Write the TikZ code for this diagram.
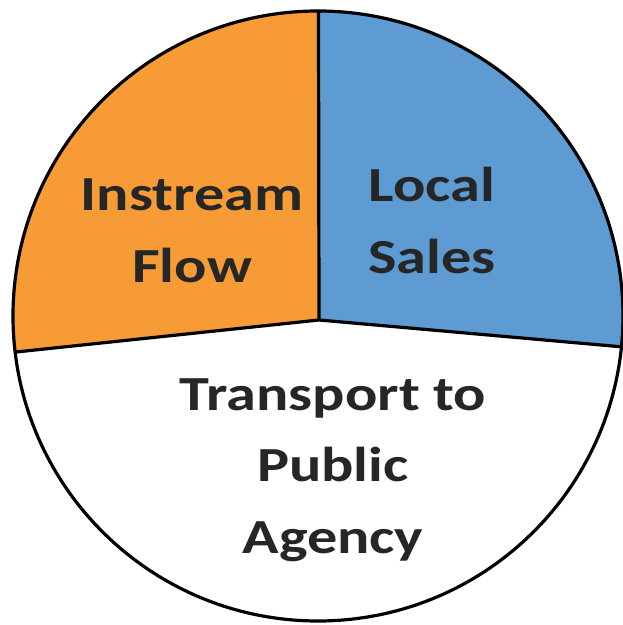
\documentclass[tikz,border=0pt]{standalone}
\usepackage{fontspec}
\setmainfont{Carlito}
\newfontfamily\piefont[FakeStretch=1.23]{Carlito}
\usetikzlibrary{calc}
\definecolor{pieorange}{RGB}{247,155,55}
\definecolor{pieblue}{RGB}{93,155,210}
\definecolor{labeltext}{RGB}{38,38,38}
\begin{document}
\begin{tikzpicture}[x=1pt,y=1pt,
  slice/.style={draw=black,line width=3.2pt,line join=round},
  piecaption/.style={font=\piefont\bfseries\fontsize{49}{72}\selectfont,text=labeltext,align=center,inner sep=0pt,anchor=base}]
\useasboundingbox[fill=white] (0,0) rectangle (623,625);
\coordinate (c) at (318,309);
\coordinate (apex) at (319,305);
\coordinate (top) at (318.5,614);
\coordinate (left) at ($(c)+(186.8:305)$);
\coordinate (right) at ($(c)+(-5.8:305)$);
\fill[pieorange] (apex) -- (top) arc[start angle=90,end angle=186.8,radius=305] -- cycle;
\fill[pieblue] (apex) -- (top) arc[start angle=90,end angle=-5.8,radius=305] -- cycle;
\draw[line width=3.2pt] (c) circle[radius=305];
\draw[slice] (left) -- (apex) -- (right);
\draw[slice] (apex) -- (top);
\node[piecaption] (instream) at (192,342) {Instream\\Flow};
\node[piecaption] (local) at (432,351) {Local\\Sales};
\node[piecaption] (transport) at (333,71) {Transport to\\Public\\Agency};
\end{tikzpicture}
\end{document}
